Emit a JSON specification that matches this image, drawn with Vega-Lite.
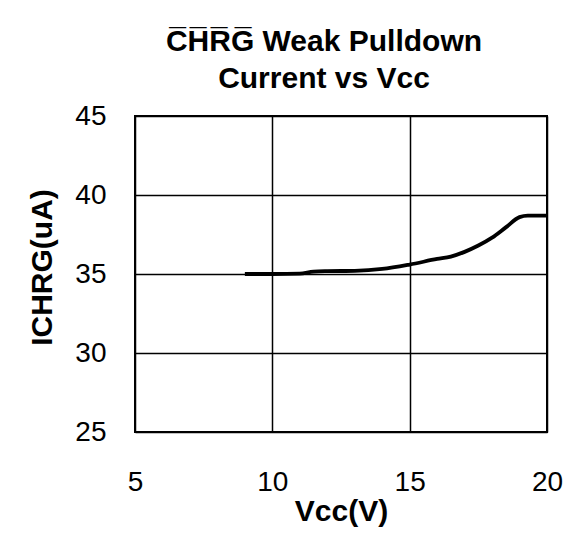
{
  "$schema": "https://vega.github.io/schema/vega-lite/v6.json",
  "width": 412,
  "height": 316,
  "autosize": {"type": "pad"},
  "padding": {"left": 27, "top": 27, "right": 20, "bottom": 5},
  "background": "white",
  "title": {
    "text": ["C̅H̅R̅G̅ Weak Pulldown", "Current vs Vcc"],
    "font": "Liberation Sans",
    "fontSize": 30,
    "fontWeight": "bold",
    "color": "black",
    "lineHeight": 37,
    "offset": 8,
    "dx": -17,
    "anchor": "middle"
  },
  "data": {
    "values": [
      {"vcc": 9, "ichrg": 35.0},
      {"vcc": 10, "ichrg": 35.0},
      {"vcc": 11, "ichrg": 35.03},
      {"vcc": 11.5, "ichrg": 35.15},
      {"vcc": 12, "ichrg": 35.18},
      {"vcc": 13, "ichrg": 35.2},
      {"vcc": 14, "ichrg": 35.32},
      {"vcc": 15, "ichrg": 35.6},
      {"vcc": 16, "ichrg": 35.95},
      {"vcc": 16.5, "ichrg": 36.1},
      {"vcc": 17, "ichrg": 36.4},
      {"vcc": 17.5, "ichrg": 36.8},
      {"vcc": 18, "ichrg": 37.3},
      {"vcc": 18.5, "ichrg": 37.95},
      {"vcc": 19, "ichrg": 38.6},
      {"vcc": 19.3, "ichrg": 38.7},
      {"vcc": 20, "ichrg": 38.7}
    ]
  },
  "mark": {"type": "line", "color": "black", "strokeWidth": 3.8, "interpolate": "monotone"},
  "encoding": {
    "x": {
      "field": "vcc",
      "type": "quantitative",
      "scale": {"domain": [5, 20], "nice": false, "zero": false},
      "axis": {"title": "Vcc(V)", "values": [5, 10, 15, 20], "labelPadding": 36, "titlePadding": 0, "titleFontSize": 30}
    },
    "y": {
      "field": "ichrg",
      "type": "quantitative",
      "scale": {"domain": [25, 45], "nice": false, "zero": false},
      "axis": {"title": "ICHRG(uA)", "values": [25, 30, 35, 40, 45], "labelPadding": 29, "titlePadding": 17, "titleFontSize": 30, "titleY": 151}
    }
  },
  "config": {
    "view": {"stroke": "black", "strokeWidth": 2},
    "axis": {
      "domain": false,
      "ticks": false,
      "grid": true,
      "gridColor": "black",
      "gridOpacity": 1,
      "gridWidth": 1.5,
      "labelFont": "Liberation Sans",
      "labelFontSize": 28,
      "labelColor": "black",
      "labelFlush": false,
      "labelOverlap": false,
      "titleFont": "Liberation Sans",
      "titleFontSize": 28,
      "titleFontWeight": "bold",
      "titleColor": "black"
    }
  }
}
